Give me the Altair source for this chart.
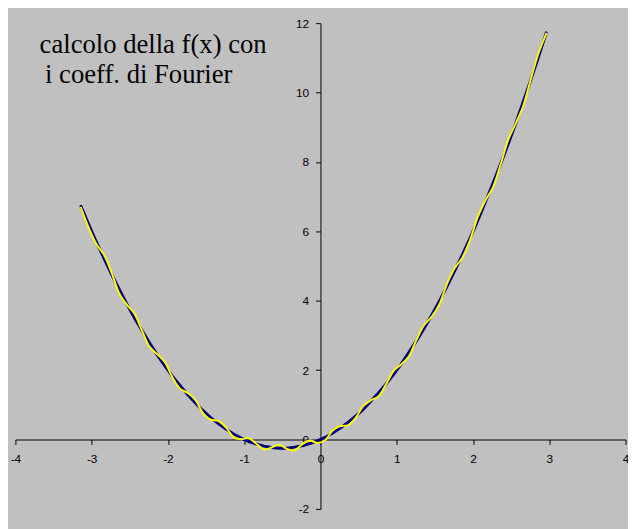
import altair as alt
import pandas as pd

x_vals = [-3.14, -3.04, -2.94, -2.84, -2.74, -2.64, -2.54, -2.44, -2.34, -2.24,
          -2.14, -2.04, -1.94, -1.84, -1.74, -1.64, -1.54, -1.44, -1.34, -1.24,
          -1.14, -1.04, -0.94, -0.84, -0.74, -0.64, -0.54, -0.44, -0.34, -0.24,
          -0.14, -0.04, 0.06, 0.16, 0.26, 0.36, 0.46, 0.56, 0.66, 0.76,
          0.86, 0.96, 1.06, 1.16, 1.26, 1.36, 1.46, 1.56, 1.66, 1.76,
          1.86, 1.96, 2.06, 2.16, 2.26, 2.36, 2.46, 2.56, 2.66, 2.76,
          2.86, 2.96]

f_vals = [6.72, 6.20, 5.70, 5.23, 4.77, 4.33, 3.91, 3.51, 3.14, 2.78,
          2.44, 2.12, 1.82, 1.55, 1.29, 1.05, 0.83, 0.63, 0.46, 0.30,
          0.16, 0.04, -0.06, -0.13, -0.19, -0.23, -0.25, -0.25, -0.22, -0.18,
          -0.12, -0.04, 0.06, 0.19, 0.33, 0.49, 0.67, 0.87, 1.10, 1.34,
          1.60, 1.88, 2.18, 2.51, 2.85, 3.21, 3.59, 3.99, 4.42, 4.86,
          5.32, 5.80, 6.30, 6.83, 7.37, 7.93, 8.51, 9.11, 9.74, 10.38,
          11.04, 11.72]

fourier_vals = [6.68, 6.11, 5.64, 5.33, 4.82, 4.22, 3.89, 3.63, 3.14, 2.67,
                2.46, 2.23, 1.79, 1.46, 1.34, 1.14, 0.76, 0.57, 0.54, 0.35,
                0.07, 0.01, 0.04, -0.12, -0.29, -0.23, -0.15, -0.27, -0.31, -0.14,
                -0.03, -0.10, -0.02, 0.26, 0.39, 0.41, 0.62, 0.96, 1.13, 1.24,
                1.59, 1.98, 2.17, 2.40, 2.88, 3.30, 3.54, 3.90, 4.49, 4.94,
                5.24, 5.74, 6.40, 6.88, 7.26, 7.91, 8.63, 9.11, 9.62, 10.40,
                11.14, 11.70]

x_ticks = [-4, -3, -2, -1, 0, 1, 2, 3, 4]
y_ticks = [-2, 0, 2, 4, 6, 8, 10, 12]
title_lines = ["calcolo della f(x) con", "i coeff. di Fourier"]

W, H = 618, 492

df = pd.DataFrame({"x": x_vals, "f": f_vals, "s": fourier_vals})

xs = alt.Scale(domain=[-4, 4], nice=False, zero=False)
ys = alt.Scale(domain=[-2, 12], nice=False, zero=False)

common_axis = dict(
    title=None, grid=False, domainColor="black", tickColor="black",
    domainWidth=1, tickWidth=1, tickSize=5,
    labelFont="Liberation Sans", labelFontSize=12, labelColor="black",
    labelFlush=False, labelOverlap=False, labelBound=False,
    labelExpr="'' + datum.value",
)

x_axis = alt.Axis(values=x_ticks, offset=-H * 2 / 14, labelPadding=9, **common_axis)
y_axis = alt.Axis(values=y_ticks, offset=-W / 2, labelPadding=7, **common_axis)

base = alt.Chart(df)

blue = base.mark_line(color="#000080", strokeWidth=3, strokeCap="round").encode(
    x=alt.X("x:Q", scale=xs, axis=x_axis),
    y=alt.Y("f:Q", scale=ys, axis=y_axis),
)

yellow = base.mark_line(color="#FFFF00", strokeWidth=2, interpolate="catmull-rom",
                        strokeCap="round").encode(
    x=alt.X("x:Q", scale=xs),
    y=alt.Y("s:Q", scale=ys),
)

t1 = alt.Chart(pd.DataFrame({"t": [title_lines[0]]})).mark_text(
    font="Liberation Serif", fontSize=27, color="black", align="left", baseline="alphabetic"
).encode(x=alt.value(24.5), y=alt.value(30), text="t:N")

t2 = alt.Chart(pd.DataFrame({"t": [title_lines[1]]})).mark_text(
    font="Liberation Serif", fontSize=27, color="black", align="left", baseline="alphabetic"
).encode(x=alt.value(30), y=alt.value(61), text="t:N")

chart = alt.layer(blue, yellow, t1, t2).properties(
    width=W, height=H,
    background="#C0C0C0",
    padding={"left": 7.5, "top": 12, "right": 2.5, "bottom": 17},
    autosize=alt.AutoSizeParams(type="none"),
).configure_view(strokeWidth=0)

chart.save("out.html", embed_options={"renderer": "svg", "actions": False})
